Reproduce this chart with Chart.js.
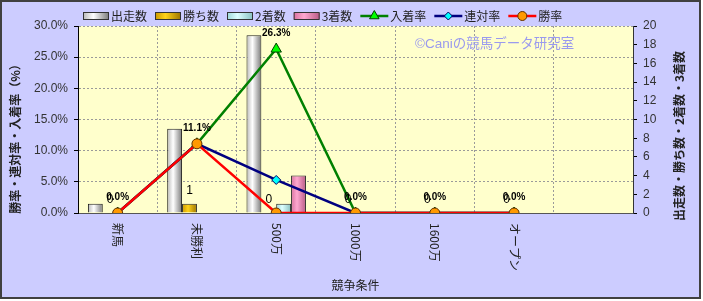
<!DOCTYPE html>
<html>
<head>
<meta charset="utf-8">
<script src="https://cdn.jsdelivr.net/npm/chart.js@4.4.1/dist/chart.umd.min.js"></script>
<style>
  html, body { margin: 0; padding: 0; background: #fff; }
  canvas { display: block; }
</style>
</head>
<body>
<canvas id="chart" width="703" height="301"></canvas>
<script>
// data
const categories = ["新馬", "未勝利", "500万", "1000万", "1600万", "オープン", ""];
const starts = [1, 9, 19, 0, 0, 0, null];     // 出走数
const wins = [0, 1, 0, 0, 0, 0, null];        // 勝ち数
const seconds = [0, 0, 1, 0, 0, 0, null];     // 2着数
const thirds = [0, 0, 4, 0, 0, 0, null];      // 3着数
const placeRate = [0, 11.1, 26.3, 0, 0, 0, null];  // 入着率
const rentaiRate = [0, 11.1, 5.3, 0, 0, 0, null];  // 連対率
const winRate = [0, 11.1, 0, 0, 0, 0, null];       // 勝率

const FONT = "'Liberation Sans', 'Noto Sans CJK JP', sans-serif";
const JP_FONT = "'Noto Sans CJK JP', 'Liberation Sans', sans-serif";

// cylinder-ish shading for the bars: [left, middle, right]
const barShades = [
  ["#b8b8b8", "#ffffff", "#7a7a7a"],
  ["#c89600", "#ffd21a", "#9c7400"],
  ["#9fd8d8", "#ddffff", "#88c0c0"],
  ["#d8709f", "#ffa8cf", "#b85a86"],
];

function shadeGradient(ctx, x0, x1, shades) {
  const g = ctx.createLinearGradient(x0, 0, x1, 0);
  g.addColorStop(0, shades[0]);
  g.addColorStop(0.4, shades[1]);
  g.addColorStop(1, shades[2]);
  return g;
}

const decoPlugin = {
  id: "deco",
  beforeDraw(chart) {
    const { ctx, chartArea: a } = chart;
    ctx.save();
    ctx.fillStyle = "#ffffff";
    ctx.fillRect(0, 0, chart.width, chart.height);
    ctx.fillStyle = "#ccccff";
    ctx.fillRect(0, 0, 701, 299);
    ctx.strokeStyle = "#404040";
    ctx.lineWidth = 2;
    ctx.strokeRect(1, 1, 699, 297);
    ctx.fillStyle = "#ffffcc";
    ctx.fillRect(a.left, a.top, a.right - a.left, a.bottom - a.top);
    ctx.restore();
  },
  beforeDatasetsDraw(chart) {
    const ctx = chart.ctx;
    // watermark
    ctx.save();
    ctx.font = "13.5px " + FONT;
    ctx.fillStyle = "#9a9aee";
    ctx.textAlign = "left";
    ctx.textBaseline = "middle";
    ctx.fillText("©Caniの競馬データ研究室", 415, 44);
    ctx.restore();
    // shaded bars
    for (let d = 0; d < 4; d++) {
      chart.getDatasetMeta(d).data.forEach((el) => {
        if (!el.width) return;
        el.options.backgroundColor = shadeGradient(ctx, el.x - el.width / 2, el.x + el.width / 2, barShades[d]);
      });
    }
  },
  afterDatasetsDraw(chart) {
    const ctx = chart.ctx;
    ctx.save();
    ctx.textAlign = "center";
    ctx.textBaseline = "middle";
    ctx.fillStyle = "#000";
    // 勝ち数 labels
    ctx.font = "12px " + FONT;
    chart.getDatasetMeta(1).data.forEach((el, i) => {
      if (wins[i] === null) return;
      ctx.fillText(String(wins[i]), el.x, el.y - 13);
    });
    // 入着率 labels
    ctx.font = "bold 10px " + FONT;
    chart.getDatasetMeta(4).data.forEach((el, i) => {
      if (placeRate[i] === null) return;
      ctx.fillText(placeRate[i].toFixed(1) + "%", el.x, el.y - 16);
    });
    ctx.restore();
  },
  afterDraw(chart) {
    const { ctx, chartArea: a } = chart;
    const xs = chart.scales.x;
    ctx.save();
    ctx.fillStyle = "#222";

    // category labels, turned clockwise
    ctx.font = "12px " + JP_FONT;
    ctx.textAlign = "left";
    ctx.textBaseline = "middle";
    categories.forEach((c, i) => {
      if (!c) return;
      ctx.save();
      ctx.translate(xs.getPixelForTick(i), a.bottom + 10);
      ctx.rotate(Math.PI / 2);
      ctx.fillText(c, 0, 0);
      ctx.restore();
    });

    // axis titles, both reading bottom to top
    ctx.font = "bold 12px " + JP_FONT;
    ctx.textAlign = "center";
    [["勝率・連対率・入着率（%）", 15], ["出走数・勝ち数・2着数・3着数", 679]].forEach(([t, x]) => {
      ctx.save();
      ctx.translate(x, 136);
      ctx.rotate(-Math.PI / 2);
      ctx.fillText(t, 0, 0);
      ctx.restore();
    });

    // legend
    const items = [
      { text: "出走数", bar: 0 },
      { text: "勝ち数", bar: 1 },
      { text: "2着数", bar: 2 },
      { text: "3着数", bar: 3 },
      { text: "入着率", line: 4 },
      { text: "連対率", line: 5 },
      { text: "勝率", line: 6 },
    ];
    const ly = 16;
    let lx = 83;
    ctx.font = "12px " + JP_FONT;
    ctx.textAlign = "left";
    ctx.textBaseline = "middle";
    items.forEach((it) => {
      if (it.bar !== undefined) {
        ctx.fillStyle = shadeGradient(ctx, lx, lx + 26, barShades[it.bar]);
        ctx.fillRect(lx, ly - 3, 26, 6);
        ctx.strokeStyle = "#333";
        ctx.lineWidth = 1;
        ctx.strokeRect(lx + 0.5, ly - 3.5, 25, 7);
        lx += 28;
      } else {
        const ds = chart.data.datasets[it.line];
        ctx.strokeStyle = ds.borderColor;
        ctx.lineWidth = 2.5;
        ctx.beginPath();
        ctx.moveTo(lx, ly);
        ctx.lineTo(lx + 28, ly);
        ctx.stroke();
        ctx.fillStyle = ds.pointBackgroundColor;
        ctx.strokeStyle = ds.pointBorderColor;
        ctx.lineWidth = 1;
        Chart.helpers.drawPoint(ctx, {
          pointStyle: ds.pointStyle, radius: ds.pointRadius - 0.5, rotation: 0, borderWidth: 1,
        }, lx + 14, ly);
        lx += 30;
      }
      ctx.fillStyle = "#222";
      ctx.fillText(it.text, lx, ly);
      lx += ctx.measureText(it.text).width + 8;
    });
    ctx.restore();
  },
};

const ctx = document.getElementById("chart").getContext("2d");
new Chart(ctx, {
  data: {
    labels: categories,
    datasets: [
      { type: "bar", label: "出走数", data: starts, yAxisID: "y1", order: 3 },
      { type: "bar", label: "勝ち数", data: wins, yAxisID: "y1", order: 3 },
      { type: "bar", label: "2着数", data: seconds, yAxisID: "y1", order: 3 },
      { type: "bar", label: "3着数", data: thirds, yAxisID: "y1", order: 3 },
      {
        type: "line", label: "入着率", data: placeRate, yAxisID: "y", order: 2,
        borderColor: "#008000", pointStyle: "triangle", pointRadius: 6,
        pointBackgroundColor: "#00ff00", pointBorderColor: "#004000",
      },
      {
        type: "line", label: "連対率", data: rentaiRate, yAxisID: "y", order: 1,
        borderColor: "#000080", pointStyle: "rectRot", pointRadius: 4.5,
        pointBackgroundColor: "#00ffff", pointBorderColor: "#000060",
      },
      {
        type: "line", label: "勝率", data: winRate, yAxisID: "y", order: 0,
        borderColor: "#ff0000", pointStyle: "circle", pointRadius: 5,
        pointBackgroundColor: "#ff9900", pointBorderColor: "#603000",
      },
    ],
  },
  options: {
    responsive: false,
    animation: false,
    layout: { padding: { top: 26, left: 0, right: 0, bottom: 0 } },
    datasets: {
      bar: {
        categoryPercentage: 0.75,
        barPercentage: 1.0,
        borderColor: "#222",
        borderWidth: 1,
        backgroundColor: (c) => barShades[c.datasetIndex][1],
      },
      line: {
        borderWidth: 2.5,
        tension: 0,
        pointBorderWidth: 1,
      },
    },
    plugins: {
      legend: { display: false },
      tooltip: { enabled: false },
    },
    scales: {
      x: {
        type: "category",
        offset: true,
        grid: { offset: true, color: "#9a9a9a", drawTicks: false },
        border: { color: "#555", dash: [2, 2] },
        ticks: { display: false },
        title: {
          display: true, text: "競争条件", color: "#222",
          font: { family: JP_FONT, size: 12 }, padding: { top: 0, bottom: 8 },
        },
        afterFit(s) { s.height = 88; },
      },
      y: {
        position: "left",
        min: 0, max: 30,
        ticks: {
          stepSize: 5, color: "#333", padding: 6,
          font: { family: FONT, size: 12 },
          callback: (v) => v.toFixed(1) + "%",
        },
        grid: { color: "#9a9a9a", tickColor: "#000", tickLength: 4, tickBorderDash: [] },
        border: { color: "#000", dash: [2, 2] },
        afterFit(s) { s.width = 78; },
      },
      y1: {
        position: "right",
        min: 0, max: 20,
        ticks: {
          stepSize: 2, color: "#333", padding: 6,
          font: { family: FONT, size: 12 },
        },
        grid: { drawOnChartArea: false, color: "#000", tickLength: 4 },
        border: { color: "#333" },
        afterFit(s) { s.width = 70; },
      },
    },
  },
  plugins: [decoPlugin],
});
</script>
</body>
</html>
